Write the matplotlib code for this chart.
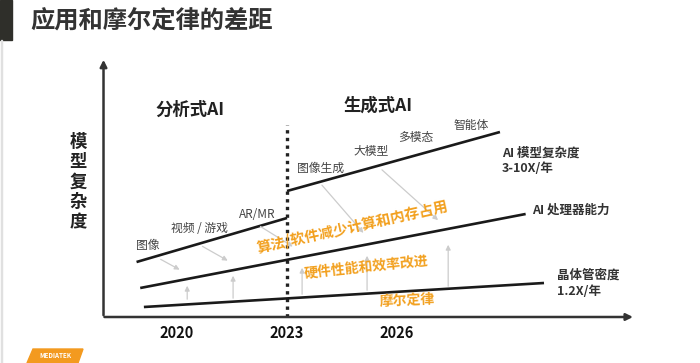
import matplotlib.pyplot as plt
from matplotlib.patches import Rectangle, Polygon

plt.rcParams['font.family'] = ['Noto Sans CJK SC', 'DejaVu Sans']

# x = year, y = relative complexity (arbitrary units)
analytic_x = [2018.9, 2023.0]
analytic_y = [5.5, 9.9]
gen_x = [2023.0, 2028.8]
gen_y = [12.6, 18.5]
proc_x = [2019.0, 2029.5]
proc_y = [2.9, 10.3]
moore_x = [2019.1, 2030.0]
moore_y = [1.0, 3.4]

years = [2020, 2023, 2026]
divider_year = 2023

# application labels on the model-complexity lines
app_labels = ['图像', '视频 / 游戏', 'AR/MR', '图像生成', '大模型', '多模态', '智能体']
app_x = [2019.21, 2020.6, 2022.18, 2023.9, 2025.29, 2026.51, 2028.01]
app_y = [7.2, 8.9, 10.2, 14.9, 16.5, 17.9, 19.2]

# gray gap arrows: (x0, y0, x1, y1)
gap_arrows = [
    (2019.49, 5.9, 2020.14, 4.6),
    (2020.63, 7.2, 2021.45, 5.5),
    (2022.21, 9.2, 2023.22, 6.9),
    (2023.90, 13.4, 2025.13, 8.2),
    (2025.53, 14.9, 2027.17, 9.5),
    (2020.28, 1.5, 2020.28, 3.4),
    (2021.53, 1.6, 2021.53, 4.4),
    (2023.41, 2.0, 2023.41, 5.2),
    (2025.18, 2.4, 2025.18, 6.4),
    (2027.39, 2.8, 2027.39, 7.5),
]

orange = '#F2A01E'
dark = '#333333'

fig = plt.figure(figsize=(7, 3.63), dpi=100)
ax = fig.add_axes([0, 0, 1, 1])
ax.set_xlim(2015.18, 2034.25)
ax.set_ylim(-4.6, 31.7)
ax.axis('off')

# axes arrows
ax.annotate('', xy=(2032.5, 0), xytext=(2017.95, 0),
            arrowprops=dict(arrowstyle='-|>', color=dark, lw=1.8, mutation_scale=10))
ax.annotate('', xy=(2018.0, 26.0), xytext=(2018.0, -0.1),
            arrowprops=dict(arrowstyle='-|>', color=dark, lw=1.8, mutation_scale=10))

# divider
ax.plot([divider_year, divider_year], [0, 19.2], color='#222222', lw=2.4,
        linestyle=(0, (1, 1.3)))

# gap arrows
for x0, y0, x1, y1 in gap_arrows:
    ax.annotate('', xy=(x1, y1), xytext=(x0, y0),
                arrowprops=dict(arrowstyle='-|>', color='#cccccc', lw=0.9, mutation_scale=7))

# main lines
for xs, ys in [(analytic_x, analytic_y), (gen_x, gen_y), (proc_x, proc_y), (moore_x, moore_y)]:
    ax.plot(xs, ys, color='#1a1a1a', lw=1.9, solid_capstyle='butt')

for lbl, x, y in zip(app_labels, app_x, app_y):
    ax.text(x, y, lbl, ha='center', va='center', fontsize=8.5, color='#444444')

ax.text(2020.36, 20.7, '分析式AI', ha='center', va='center', fontsize=12.5,
        fontweight='bold', color='#222222')
ax.text(2025.48, 21.1, '生成式AI', ha='center', va='center', fontsize=12.5,
        fontweight='bold', color='#222222')

ax.text(2028.86, 15.6, 'AI 模型复杂度\n3-10X/年', ha='left', va='center', fontsize=9,
        fontweight='bold', color=dark, linespacing=1.3)
ax.text(2029.68, 10.7, 'AI 处理器能力', ha='left', va='center', fontsize=9,
        fontweight='bold', color=dark)
ax.text(2030.36, 3.35, '晶体管密度\n1.2X/年', ha='left', va='center', fontsize=9,
        fontweight='bold', color=dark, linespacing=1.3)

ax.text(2024.80, 9.1, '算法/软件减少计算和内存占用', ha='center', va='center',
        fontsize=10.5, fontweight='bold', color=orange, rotation=12.5)
ax.text(2025.15, 5.0, '硬件性能和效率改进', ha='center', va='center',
        fontsize=10, fontweight='bold', color=orange, rotation=6)
ax.text(2026.27, 1.6, '摩尔定律', ha='center', va='center',
        fontsize=10, fontweight='bold', color=orange, rotation=2.5)

ax.text(2017.31, 13.5, '模\n型\n复\n杂\n度', ha='center', va='center', fontsize=12.5,
        fontweight='bold', color='#222222', linespacing=1.15)

for yr in years:
    ax.text(yr, -1.6, str(yr), ha='center', va='center', fontsize=10.5,
            fontweight='bold', color='#111111')

# slide decorations
fig.text(30 / 700, 1 - 22 / 363, '应用和摩尔定律的差距', ha='left', va='center',
         fontsize=17.5, fontweight='bold', color=dark)
fig.patches.append(Rectangle((0, 1 - 40 / 363), 12 / 700, 40 / 363,
                             transform=fig.transFigure, color='#2f2f2a'))
fig.patches.append(Rectangle((1 / 700, 0), 1 / 700, 1 - 40 / 363,
                             transform=fig.transFigure, color='#e0e0e0'))
logo = [(33 / 700, 14 / 363), (83 / 700, 14 / 363), (78 / 700, 0), (27 / 700, 0)]
fig.patches.append(Polygon(logo, closed=True, transform=fig.transFigure, color='#F39A1F'))
fig.text(55 / 700, 7 / 363, 'MEDIATEK', ha='center', va='center', fontsize=4.5,
         fontweight='bold', style='italic', color='white')

fig.savefig('out.png', dpi=100)
